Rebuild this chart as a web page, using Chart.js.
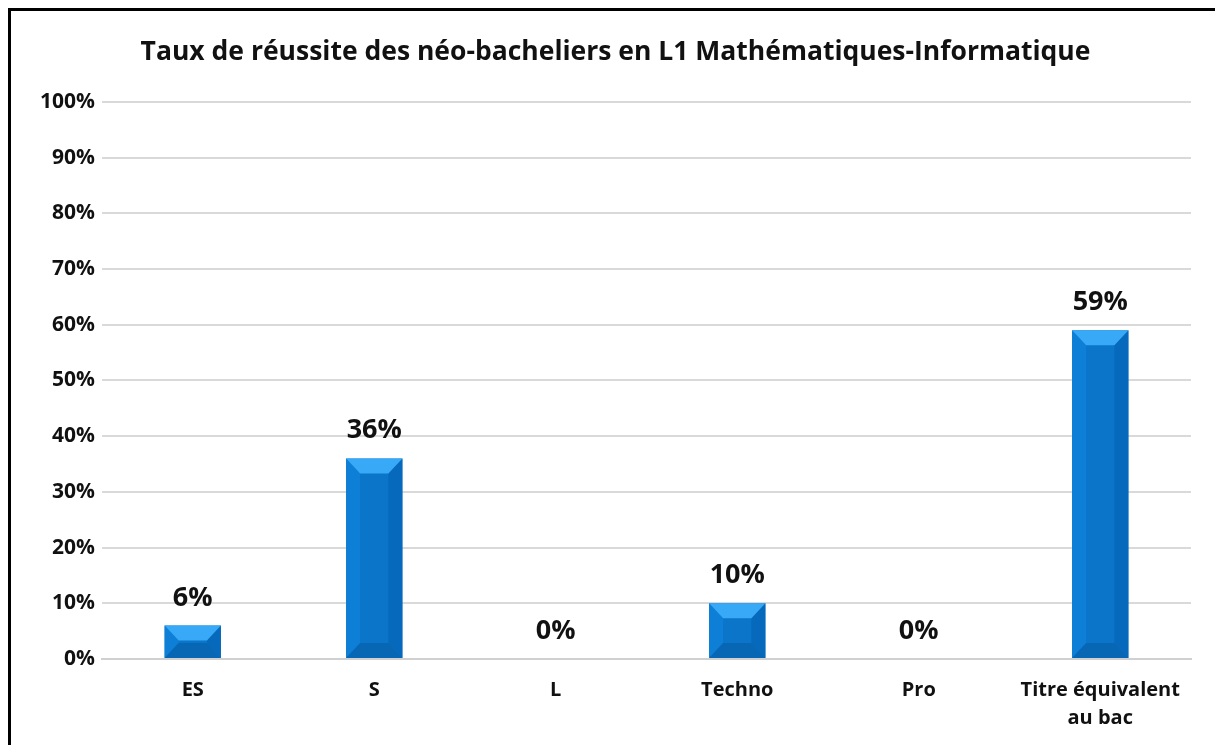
<!DOCTYPE html>
<html>
<head>
    <title>Taux de réussite</title>
    <script src="https://cdn.jsdelivr.net/npm/chart.js"></script>
    <style>
        body {
            margin: 0;
            background: #fff;
            overflow: hidden;
        }
        .frame {
            position: absolute;
            left: 8px;
            top: 8px;
            width: 1220px;
            height: 760px;
            border-top: 3px solid #000;
            border-left: 3px solid #000;
        }
        .wrap {
            position: absolute;
            left: 0;
            top: 0;
            width: 1215px;
            height: 745px;
        }
    </style>
</head>
<body>
    <div class="frame"></div>
    <div class="wrap"><canvas id="chart"></canvas></div>

    <script>
        const categories = ['ES', 'S', 'L', 'Techno', 'Pro', ['Titre équivalent', 'au bac']];
        const successRate = [6, 36, 0, 10, 0, 59];
        const yTicks = [0, 10, 20, 30, 40, 50, 60, 70, 80, 90, 100];

        const FONT = "'Open Sans', sans-serif";

        // bevelled look of the bars + value labels
        const bevelBars = {
            id: 'bevelBars',
            afterDatasetsDraw(chart) {
                const ctx = chart.ctx;
                const meta = chart.getDatasetMeta(0);
                meta.data.forEach((bar, i) => {
                    const left = bar.x - bar.width / 2;
                    const right = bar.x + bar.width / 2;
                    const top = bar.y;
                    const bottom = bar.base;
                    const h = bottom - top;
                    if (h > 0.5) {
                        const b = Math.min(15, h / 2);
                        const bx = 14;
                        ctx.save();
                        // left side
                        ctx.fillStyle = '#0d7fd6';
                        ctx.beginPath();
                        ctx.moveTo(left, top); ctx.lineTo(left + bx, top + b);
                        ctx.lineTo(left + bx, bottom - b); ctx.lineTo(left, bottom);
                        ctx.closePath(); ctx.fill();
                        // right side
                        ctx.fillStyle = '#0669bb';
                        ctx.beginPath();
                        ctx.moveTo(right, top); ctx.lineTo(right - bx, top + b);
                        ctx.lineTo(right - bx, bottom - b); ctx.lineTo(right, bottom);
                        ctx.closePath(); ctx.fill();
                        // bottom
                        ctx.fillStyle = '#0867b4';
                        ctx.beginPath();
                        ctx.moveTo(left, bottom); ctx.lineTo(left + bx, bottom - b);
                        ctx.lineTo(right - bx, bottom - b); ctx.lineTo(right, bottom);
                        ctx.closePath(); ctx.fill();
                        // top
                        ctx.fillStyle = '#38a9f6';
                        ctx.beginPath();
                        ctx.moveTo(left, top); ctx.lineTo(left + bx, top + b);
                        ctx.lineTo(right - bx, top + b); ctx.lineTo(right, top);
                        ctx.closePath(); ctx.fill();
                        ctx.restore();
                    }
                    ctx.save();
                    ctx.fillStyle = '#111';
                    ctx.font = 'bold 27px ' + FONT;
                    ctx.textAlign = 'center';
                    ctx.textBaseline = 'alphabetic';
                    ctx.fillText(successRate[i] + '%', bar.x, top - 20);
                    ctx.restore();
                });
            }
        };

        new Chart(document.getElementById('chart'), {
            type: 'bar',
            data: {
                labels: categories,
                datasets: [{
                    data: successRate,
                    backgroundColor: '#0b75ca',
                    borderWidth: 0,
                    barPercentage: 0.31,
                    categoryPercentage: 1
                }]
            },
            options: {
                responsive: true,
                maintainAspectRatio: false,
                animation: false,
                layout: { padding: { left: 40, right: 24, top: 23, bottom: 0 } },
                plugins: {
                    legend: { display: false },
                    tooltip: { enabled: false },
                    title: {
                        display: true,
                        text: 'Taux de réussite des néo-bacheliers en L1 Mathématiques-Informatique',
                        color: '#111',
                        font: { family: FONT, size: 26.5, weight: 'bold' },
                        padding: { top: 14, bottom: 33 }
                    }
                },
                scales: {
                    x: {
                        afterFit(axis) { axis.height = 86; },
                        grid: { display: false, drawTicks: false },
                        border: { display: true, color: '#d0d0d0', width: 2 },
                        ticks: {
                            color: '#111',
                            font: { family: FONT, size: 20, weight: 'bold', lineHeight: 1.4 },
                            padding: 17,
                            maxRotation: 0
                        }
                    },
                    y: {
                        min: 0,
                        max: 100,
                        afterFit(axis) { axis.width = 62; },
                        afterBuildTicks(axis) {
                            axis.ticks = yTicks.map(v => ({ value: v }));
                        },
                        grid: { color: '#d9d9d9', lineWidth: 2, drawTicks: false },
                        border: { display: false },
                        ticks: {
                            color: '#111',
                            font: { family: FONT, size: 21, weight: 'bold' },
                            padding: 7,
                            callback: v => v + '%'
                        }
                    }
                }
            },
            plugins: [bevelBars]
        });
    </script>
</body>
</html>
